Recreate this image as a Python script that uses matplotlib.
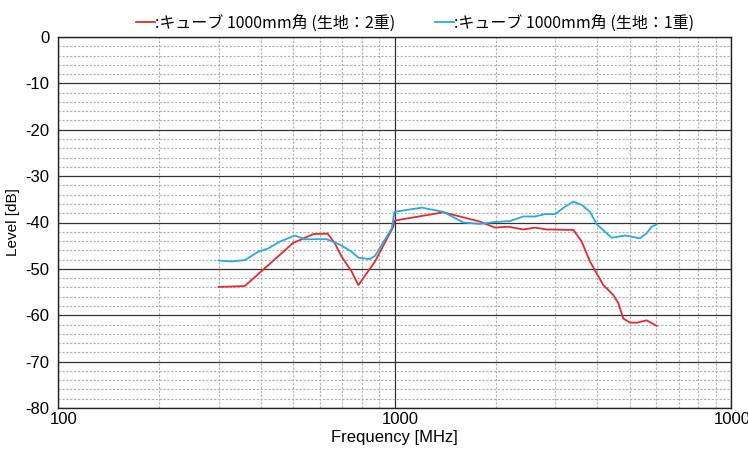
import matplotlib
matplotlib.use("Agg")
import matplotlib.pyplot as plt
import matplotlib.transforms as mtransforms
from matplotlib.ticker import LogLocator, MultipleLocator, FixedLocator, NullFormatter

# Data
freq_red = [300, 359, 500, 574, 633, 665, 697, 746, 781, 875, 992, 1000, 1396, 1794, 1990,
            2178, 2414, 2616, 2833, 3401, 3600, 3810, 4175, 4467, 4625, 4786, 5012, 5250, 5616, 6012]
level_red = [-53.9, -53.7, -44.4, -42.5, -42.4, -44.5, -47.4, -50.6, -53.5, -48.4, -40.9, -39.6, -37.8,
             -39.8, -41.1, -40.9, -41.5, -41.1, -41.5, -41.6, -44.1, -48.4, -53.5, -55.6, -57.4,
             -60.7, -61.6, -61.6, -61.1, -62.3]

freq_blue = [300, 328, 359, 394, 421, 457, 506, 542, 629, 689, 746, 781, 845, 875, 981, 1000,
             1205, 1396, 1602, 1794, 1990, 2203, 2414, 2616, 2800, 3000, 3212, 3401, 3600, 3810,
             3990, 4422, 4842, 5365, 5616, 5808, 6012]
level_blue = [-48.2, -48.4, -48.1, -46.3, -45.6, -44.1, -42.8, -43.6, -43.6, -44.8, -46.3, -47.6,
              -47.9, -47.2, -41.3, -37.7, -36.8, -37.7, -40.0, -40.3, -39.9, -39.7, -38.7, -38.7,
              -38.2, -38.2, -36.6, -35.5, -36.2, -37.7, -40.4, -43.3, -42.8, -43.4, -42.3, -40.9, -40.4]

label_red = ":キューブ 1000mm角 (生地：2重)"
label_blue = ":キューブ 1000mm角 (生地：1重)"
x_ticks = [100, 1000, 10000]
x_ticklabels = ["100", "1000", "10000"]
y_ticks = [0, -10, -20, -30, -40, -50, -60, -70, -80]

plt.rcParams['font.family'] = ['Liberation Sans', 'Noto Sans CJK JP', 'DejaVu Sans']
plt.rcParams['axes.unicode_minus'] = False

fig = plt.figure(figsize=(7.48, 4.49), dpi=100)
ax = fig.add_axes([58/748, 1 - 408/449, (731 - 58)/748, (408 - 37)/449])

ax.plot(freq_red, level_red, color='#e8282c', lw=1.3, label=label_red, zorder=3)
ax.plot(freq_blue, level_blue, color='#27a9e1', lw=1.3, label=label_blue, zorder=3)

ax.set_xscale('log')
ax.set_xlim(100, 10000)
ax.set_ylim(-80, 0)

ax.xaxis.set_major_locator(FixedLocator(x_ticks))
ax.set_xticklabels(x_ticklabels)
ax.xaxis.set_minor_locator(LogLocator(base=10, subs=range(2, 10)))
ax.xaxis.set_minor_formatter(NullFormatter())
ax.yaxis.set_major_locator(FixedLocator(y_ticks))
ax.yaxis.set_minor_locator(MultipleLocator(2))

ax.grid(which='major', color='#333333', lw=0.9, ls='-')
ax.grid(which='minor', color='#b0b0b0', lw=0.8, ls=(0, (2, 1.5)))
ax.set_axisbelow(True)

ax.tick_params(which='both', length=0)
ax.tick_params(axis='x', labelsize=12, pad=3)
ax.tick_params(axis='y', labelsize=12, pad=6)
for spine in ax.spines.values():
    spine.set_color('#222222')
    spine.set_linewidth(1.0)

offset = mtransforms.ScaledTranslation(6/100, 0, fig.dpi_scale_trans)
for lbl in ax.get_xticklabels():
    lbl.set_transform(lbl.get_transform() + offset)

ax.set_xlabel("Frequency [MHz]", fontsize=12, labelpad=2)
ax.set_ylabel("Level [dB]", fontsize=11, labelpad=4)

leg = fig.legend(loc='upper center', bbox_to_anchor=(0.555, 1.0), ncol=2, frameon=False,
                 handlelength=1.2, handletextpad=0.0, columnspacing=2.5,
                 prop={'family': ['Noto Sans CJK JP', 'DejaVu Sans'], 'size': 11.5})

fig.savefig("out.png", dpi=100)
